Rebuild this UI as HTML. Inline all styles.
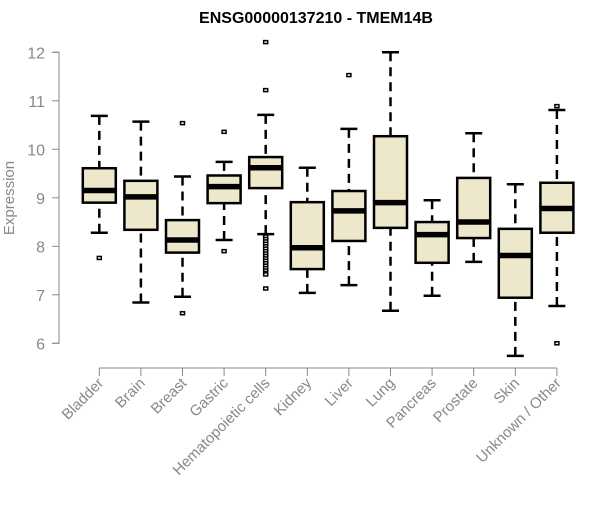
<!DOCTYPE html>
<html><head><meta charset="utf-8"><style>
body{margin:0;background:#fff;}
svg text{font-family:"Liberation Sans",Arial,sans-serif;}
</style></head><body>
<svg id="chart" width="600" height="500" xmlns="http://www.w3.org/2000/svg">
<text x="316" y="23" text-anchor="middle" font-weight="bold" font-size="16" fill="#000">ENSG00000137210 - TMEM14B</text>
<text transform="translate(14,198) rotate(-90)" text-anchor="middle" font-size="15" fill="#888">Expression</text>
<g id="axes"></g><g id="marks"></g>
</svg>
<script>
const categories=["Bladder","Brain","Breast","Gastric","Hematopoietic cells","Kidney","Liver","Lung","Pancreas","Prostate","Skin","Unknown / Other"];
const whiskerLow=[8.28,6.84,6.96,8.13,8.25,7.04,7.20,6.67,6.98,7.68,5.74,6.77];
const q1=[8.90,8.34,7.87,8.89,9.20,7.53,8.11,8.38,7.66,8.17,6.94,8.28];
const medians=[9.15,9.02,8.13,9.23,9.62,7.97,8.73,8.90,8.24,8.50,7.81,8.78];
const q3=[9.61,9.35,8.54,9.46,9.84,8.91,9.14,10.27,8.50,9.41,8.36,9.31];
const whiskerHigh=[10.69,10.57,9.44,9.74,10.71,9.62,10.42,12.0,8.95,10.33,9.28,10.81];
const outliers=[[7.76],[],[10.54,6.62],[10.36,7.90],[12.21,11.22,8.2,8.15,8.1,8.05,8.0,7.95,7.9,7.85,7.8,7.75,7.7,7.65,7.6,7.55,7.5,7.45,7.42,7.13],[],[11.53],[],[],[],[],[10.89,6.0]];
const yTicks=[6,7,8,9,10,11,12];
const NS="http://www.w3.org/2000/svg";
function yS(v){return 52.3+(12-v)*48.5;}
function xS(i){return 99.3+i*41.6;}
function mk(tag,attrs,parent){const e=document.createElementNS(NS,tag);for(const k in attrs)e.setAttribute(k,attrs[k]);parent.appendChild(e);return e;}
const axes=document.getElementById('axes'),marks=document.getElementById('marks');
let a=mk('path',{d:`M52 ${yS(12)} H59 V${yS(6)} H52`,fill:'none',stroke:'#888','stroke-width':1},axes);

yTicks.forEach(t=>{
 const l=mk('line',{x1:52,x2:59,y1:yS(t),y2:yS(t),stroke:'#888'},axes);
 
 const tx=mk('text',{x:45,y:yS(t)+6,'text-anchor':'end','font-size':16,fill:'#888'},axes);
 tx.textContent=t;
 
});
let xa=mk('line',{x1:xS(0),x2:xS(categories.length-1),y1:368,y2:368,stroke:'#888'},axes);

categories.forEach((c,i)=>{
 const x=xS(i);
 const t=mk('line',{x1:x,x2:x,y1:368,y2:376,stroke:'#888'},axes);
 
 const tx=mk('text',{transform:`translate(${x+5},384) rotate(-45)`,'text-anchor':'end','font-size':15,fill:'#888'},axes);
 tx.textContent=c;
 
 const g=mk('g',{},marks);
 
 
 mk('line',{x1:x,x2:x,y1:yS(whiskerHigh[i]),y2:yS(q3[i]),stroke:'#000','stroke-width':2.5,'stroke-dasharray':'9 6'},g);
 mk('line',{x1:x,x2:x,y1:yS(whiskerLow[i]),y2:yS(q1[i]),stroke:'#000','stroke-width':2.5,'stroke-dasharray':'9 6'},g);
 mk('line',{x1:x-8.5,x2:x+8.5,y1:yS(whiskerHigh[i]),y2:yS(whiskerHigh[i]),stroke:'#000','stroke-width':2.5},g);
 mk('line',{x1:x-8.5,x2:x+8.5,y1:yS(whiskerLow[i]),y2:yS(whiskerLow[i]),stroke:'#000','stroke-width':2.5},g);
 mk('rect',{x:x-16.5,y:yS(q3[i]),width:33,height:yS(q1[i])-yS(q3[i]),fill:'#ede7cc',stroke:'#000','stroke-width':2.5},g);
 mk('line',{x1:x-16.5,x2:x+16.5,y1:yS(medians[i]),y2:yS(medians[i]),stroke:'#000','stroke-width':5.5},g);
 outliers[i].forEach(v=>{
  const o=mk('rect',{x:x-2,y:yS(v)-1.5,width:4,height:3,fill:'#fff',stroke:'#000','stroke-width':1.5},marks);
  
  
 });
});
</script>
</body></html>
